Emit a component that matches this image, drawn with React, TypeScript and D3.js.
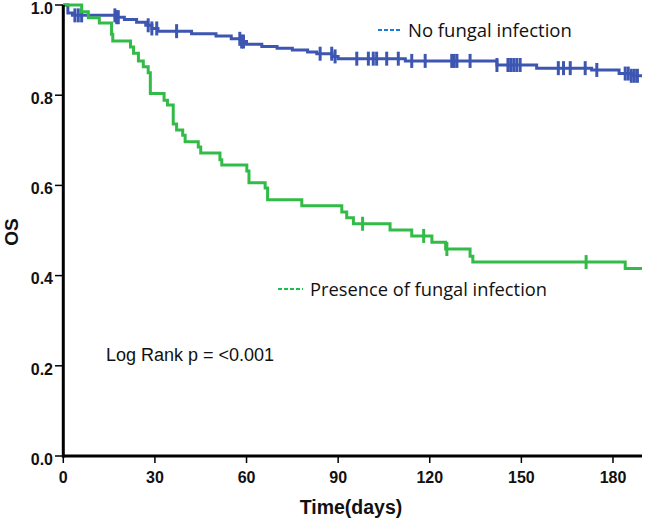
import React from "react";
import * as d3 from "d3";

const xTicks = [0, 30, 60, 90, 120, 150, 180];
const yTicks = [0.0, 0.2, 0.4, 0.6, 0.8, 1.0];

const noFungalTimes = [0, 1.5, 3, 17, 20, 24, 27, 29, 31, 42, 50, 55, 58, 60, 65, 70, 75, 80, 83, 88, 90, 112, 142, 155, 173, 182, 186];
const noFungalSurv = [1, 0.982, 0.977, 0.973, 0.968, 0.962, 0.955, 0.948, 0.942, 0.936, 0.931, 0.925, 0.919, 0.913, 0.908, 0.904, 0.9, 0.896, 0.892, 0.886, 0.881, 0.876, 0.867, 0.86, 0.856, 0.848, 0.843];
const noFungalCensor = [3.8, 4.9, 6.0, 16.9, 17.5, 18, 27.8, 29, 30.6, 37.1, 57.8, 58.4, 59, 84.1, 87.9, 89, 96.1, 99.9, 101.5, 102.6, 105.9, 109.7, 114.1, 118.5, 127.2, 128, 128.9, 133.2, 142, 145.6, 146.5, 147.5, 148.5, 149.6, 162.1, 163.8, 166, 170.9, 174.7, 184, 185, 186, 187, 188];

const fungalTimes = [0, 6, 8.2, 11.8, 15.8, 16.2, 22, 23, 24.6, 26.2, 27.8, 28.5, 33, 34.1, 36, 37.1, 39.1, 39.9, 44.2, 45, 51.3, 51.9, 60.1, 60.8, 66.1, 66.9, 78.1, 91.2, 92.8, 95, 107, 114.1, 120.7, 125.2, 133.2, 134.1, 184];
const fungalSurv = [1, 0.985, 0.972, 0.96, 0.935, 0.92, 0.907, 0.893, 0.876, 0.863, 0.85, 0.804, 0.789, 0.778, 0.736, 0.723, 0.711, 0.697, 0.685, 0.672, 0.657, 0.645, 0.632, 0.606, 0.594, 0.568, 0.555, 0.541, 0.528, 0.515, 0.501, 0.488, 0.474, 0.459, 0.443, 0.43, 0.416];
const fungalCensor = [98, 118, 125.6, 171.2];

const maxTime = 189.5;

const BLUE = "#3d56b2";
const GREEN = "#33bb48";

function survAt(times: number[], surv: number[], t: number) {
  let v = surv[0];
  for (let i = 0; i < times.length; i++) if (times[i] <= t) v = surv[i];
  return v;
}

export default function App() {
  const x = d3.scaleLinear().domain([0, maxTime]).range([63.3, 642]);
  const y = d3.scaleLinear().domain([0, 1]).range([456, 5]);
  const line = d3
    .line<[number, number]>()
    .x((d) => x(d[0]))
    .y((d) => y(d[1]))
    .curve(d3.curveStepAfter);

  const mk = (times: number[], surv: number[]) => {
    const pts: [number, number][] = times.map((t, i) => [t, surv[i]]);
    pts.push([maxTime, surv[surv.length - 1]]);
    return line(pts) || "";
  };

  const censors = (times: number[], surv: number[], cs: number[], color: string) =>
    cs.map((c, i) => {
      const cx = x(c);
      const cy = y(survAt(times, surv, c));
      return <line key={i} x1={cx} x2={cx} y1={cy - 7} y2={cy + 7} stroke={color} strokeWidth={3} />;
    });

  return (
    <svg width={646} height={519} style={{ position: "absolute", left: 0, top: 0, background: "#fff" }}>
      <rect width={646} height={519} fill="#fff" />
      {/* curves */}
      <path d={mk(noFungalTimes, noFungalSurv)} fill="none" stroke={BLUE} strokeWidth={3} />
      {censors(noFungalTimes, noFungalSurv, noFungalCensor, BLUE)}
      <path d={mk(fungalTimes, fungalSurv)} fill="none" stroke={GREEN} strokeWidth={3} />
      {censors(fungalTimes, fungalSurv, fungalCensor, GREEN)}

      {/* axes */}
      <line x1={63.3} x2={63.3} y1={y(1)} y2={457.5} stroke="#000" strokeWidth={3} />
      <line x1={62} x2={642} y1={456} y2={456} stroke="#000" strokeWidth={3} />
      {yTicks.map((t) => (
        <g key={"y" + t}>
          <line x1={55} x2={63} y1={y(t)} y2={y(t)} stroke="#000" strokeWidth={1.5} />
          <text x={53} y={y(t) + 3} dy="0.36em" textAnchor="end" fontFamily="Liberation Sans, Arial, sans-serif" fontWeight="bold" fontSize={16} fill="#111">
            {t.toFixed(1)}
          </text>
        </g>
      ))}
      {xTicks.map((t) => (
        <g key={"x" + t}>
          <line x1={x(t)} x2={x(t)} y1={456} y2={463} stroke="#000" strokeWidth={1.5} />
          <text x={x(t)} y={477} dy="0.36em" textAnchor="middle" fontFamily="Liberation Sans, Arial, sans-serif" fontWeight="bold" fontSize={16} fill="#111">
            {t}
          </text>
        </g>
      ))}
      <text x={351} y={507} dy="0.36em" textAnchor="middle" fontFamily="Liberation Sans, Arial, sans-serif" fontWeight="bold" fontSize={19.5} fill="#111">
        Time(days)
      </text>
      <text transform="translate(11,232) rotate(-90)" dy="0.36em" textAnchor="middle" fontFamily="Liberation Sans, Arial, sans-serif" fontWeight="bold" fontSize={19} fill="#111">
        OS
      </text>

      {/* legends */}
      <line x1={378} x2={402} y1={30} y2={30} stroke="#1b7cd6" strokeWidth={2} strokeDasharray="4,2" />
      <text x={408} y={30} dy="0.36em" fontFamily="Open Sans, sans-serif" fontSize={18.5} fill="#111">
        No fungal infection
      </text>
      <line x1={278} x2={303} y1={289} y2={289} stroke="#1dc04c" strokeWidth={2} strokeDasharray="4,2" />
      <text x={310} y={289} dy="0.36em" fontFamily="Open Sans, sans-serif" fontSize={18.3} fill="#111">
        Presence of fungal infection
      </text>
      <text x={106} y={355} dy="0.36em" fontFamily="Liberation Sans, Arial, sans-serif" fontSize={18} fill="#111">
        Log Rank p = &lt;0.001
      </text>
    </svg>
  );
}
